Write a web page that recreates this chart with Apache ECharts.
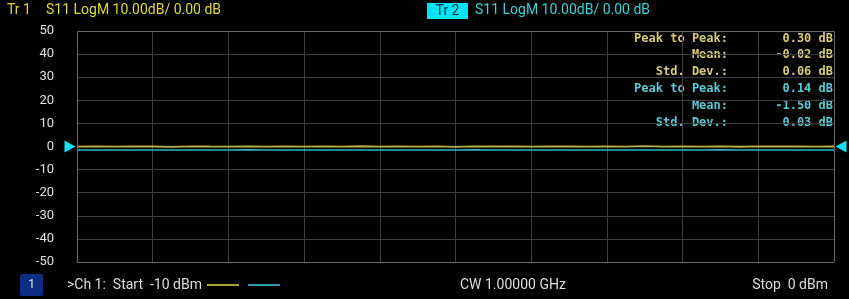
<!DOCTYPE html>
<html><head><meta charset="utf-8">
<script src="https://cdn.jsdelivr.net/npm/echarts@6/dist/echarts.min.js"></script>
<style>html,body{margin:0;padding:0;background:#000;}#c{width:849px;height:299px;}</style>
</head><body><div id="c"></div>
<script>
const yTicks = [50,40,30,20,10,0,-10,-20,-30,-40,-50];
const points = [0,1,2,3,4,5,6,7,8,9,10,11,12,13,14,15,16,17,18,19,20,21,22,23,24,25,26,27,28,29,30,31,32,33,34,35,36,37,38,39,40];
const tr1 = [-0.05,0.02,-0.08,0.04,-0.01,-0.12,0.06,0.00,-0.03,0.08,-0.06,0.01,-0.09,0.03,-0.02,0.10,-0.04,0.05,-0.07,0.02,-0.18,0.04,-0.01,0.07,-0.05,0.00,0.03,-0.08,0.06,-0.02,0.12,-0.03,0.01,-0.06,0.04,-0.10,0.02,-0.01,0.05,-0.04,0.01];
const tr2 = [-1.49,-1.52,-1.47,-1.51,-1.50,-1.54,-1.48,-1.50,-1.53,-1.46,-1.51,-1.49,-1.52,-1.48,-1.50,-1.55,-1.47,-1.50,-1.52,-1.49,-1.51,-1.43,-1.50,-1.53,-1.48,-1.50,-1.52,-1.47,-1.51,-1.49,-1.54,-1.48,-1.50,-1.52,-1.46,-1.51,-1.49,-1.53,-1.50,-1.48,-1.51];
const statLabels = ['Peak to Peak:','Mean:','Std. Dev.:','Peak to Peak:','Mean:','Std. Dev.:'];
const statValues = ['0.30 dB','-0.02 dB','0.06 dB','0.14 dB','-1.50 dB','0.03 dB'];
const YEL = '#e2d83c', YEL2 = '#d6cc78', CY = '#3fd0dc', CY2 = '#5ccad2';
const chart = echarts.init(document.getElementById('c'));
const gText = [];
const font = 'Roboto, "Noto Sans", sans-serif';
const mono = '"DejaVu Sans Mono", "Liberation Mono", monospace';
function t(x,y,text,color,opts){ gText.push(Object.assign({type:'text',x:x,y:y,style:Object.assign({text:text,fill:color,font:'14px '+font,textVerticalAlign:'middle'},opts||{})})); }
t(7,10,'Tr 1',YEL);
t(46,10,'S11 LogM 10.00dB/ 0.00 dB',YEL);
gText.push({type:'rect',shape:{x:427,y:3,width:41,height:16},style:{fill:'#00e4f6'}});
t(447.5,11,'Tr 2','#053040',{textAlign:'center'});
t(475,10,'S11 LogM 10.00dB/ 0.00 dB',CY);
statLabels.forEach((s,i)=>{
  const c = i<3?YEL2:CY2;
  t(728,38.5+i*16.8,s,c,{font:'bold 12px '+mono,textAlign:'right'});
  t(833,38.5+i*16.8,statValues[i],c,{font:'bold 12px '+mono,textAlign:'right'});
});
gText.push({type:'rect',shape:{x:20,y:274,width:23,height:22,r:2},style:{fill:'#0c2c86'}});
t(31.5,285,'1','#e8e8e8',{textAlign:'center',font:'12px '+font});
t(67,285,'>Ch 1:  Start  -10 dBm','#dcdcdc');
gText.push({type:'line',shape:{x1:207,y1:285,x2:239,y2:285},style:{stroke:YEL,lineWidth:1.5}});
gText.push({type:'line',shape:{x1:248,y1:285,x2:280,y2:285},style:{stroke:CY,lineWidth:1.5}});
t(460,285,'CW 1.00000 GHz','#dcdcdc');
t(828,285,'Stop  0 dBm','#dcdcdc',{textAlign:'right'});
chart.setOption({
  backgroundColor:'#000',
  animation:false,
  grid:{left:77,right:15,top:31,bottom:37},
  xAxis:{type:'value',min:0,max:40,interval:4,axisLabel:{show:false},axisTick:{show:false},
    axisLine:{show:false},splitLine:{show:true,lineStyle:{color:'#3e3e3e',width:1}}},
  yAxis:{type:'value',min:-50,max:50,interval:10,
    axisLabel:{color:'#e0e0e0',fontSize:13,fontFamily:font,margin:23,formatter:v=>String(v)},
    axisTick:{show:false},axisLine:{show:false},splitLine:{show:true,lineStyle:{color:'#3e3e3e',width:1}}},
  graphic:gText,
  series:[
    {type:'line',data:points.map((x,i)=>[x,tr1[i]]),showSymbol:false,lineStyle:{color:'#b8b040',width:1.8},itemStyle:{color:YEL},z:3,
     markLine:{silent:true,symbol:'none',label:{show:false},lineStyle:{color:'#6a6a6a',type:'solid',width:1},
       data:[[{coord:[0,-50]},{coord:[0,50]}],[{coord:[40,-50]},{coord:[40,50]}],[{coord:[0,50]},{coord:[40,50]}],[{coord:[0,-50]},{coord:[40,-50]}]]}},
    {type:'line',data:points.map((x,i)=>[x,tr2[i]]),showSymbol:false,lineStyle:{color:'#22b8cc',width:1.5},itemStyle:{color:CY},z:4,
     markPoint:{symbol:'triangle',symbolSize:[12,11],label:{show:false},itemStyle:{color:'#16e0f6'},
       data:[{coord:[0,0],symbolRotate:-90,symbolOffset:[-7,0]},{coord:[40,0],symbolRotate:90,symbolOffset:[7,0]}]}}
  ]
});
</script></body></html>
